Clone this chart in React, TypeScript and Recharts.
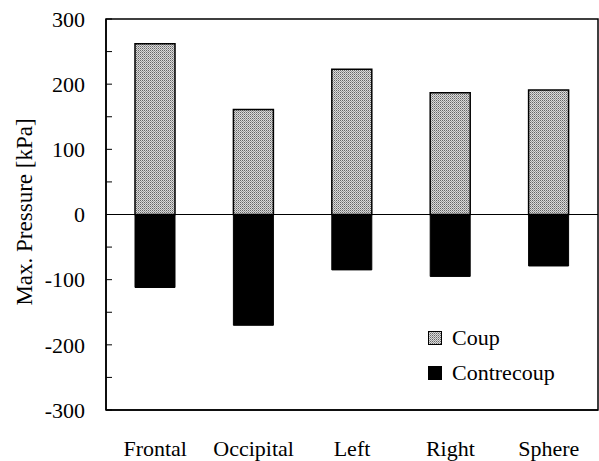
import React from 'react';
import { BarChart, Bar, XAxis, YAxis, ReferenceLine, ReferenceArea, Legend } from 'recharts';

const CATEGORIES = ['Frontal', 'Occipital', 'Left', 'Right', 'Sphere'];
const COUP = [262, 161, 223, 187, 191];
const CONTRECOUP = [-112, -170, -85, -95, -79];
const Y_TICKS = [-300, -250, -200, -150, -100, -50, 0, 50, 100, 150, 200, 250, 300];

const data = CATEGORIES.map((name, i) => ({ name, coup: COUP[i], contrecoup: CONTRECOUP[i] }));

const FONT = '"Liberation Serif", "Times New Roman", serif';

function LegendBox() {
  const row = (label: string, fill: string) => (
    <div style={{ display: 'flex', alignItems: 'center', height: 35 }}>
      <svg width={14} height={14} style={{ marginRight: 10 }}>
        <rect x={0.5} y={0.5} width={13} height={13} fill={fill} stroke="#000" />
      </svg>
      <span style={{ fontFamily: FONT, fontSize: 22, color: '#000' }}>{label}</span>
    </div>
  );
  return (
    <div>
      {row('Coup', 'url(#dots)')}
      {row('Contrecoup', '#000')}
    </div>
  );
}

export default function App() {
  return (
    <div style={{ position: 'absolute', left: 0, top: 0, width: 599, height: 461, background: '#fff' }}>
      <svg width={0} height={0} style={{ position: 'absolute' }}>
        <defs>
          <pattern id="dots" width={2} height={2} patternUnits="userSpaceOnUse">
            <rect width={2} height={2} fill="#dadada" />
            <rect x={0} y={0} width={1} height={1} fill="#666" />
            <rect x={1} y={1} width={1} height={1} fill="#999" />
          </pattern>
        </defs>
      </svg>
      <BarChart
        width={599}
        height={461}
        data={data}
        stackOffset="sign"
        margin={{ top: 19, right: 1, bottom: 6, left: 0 }}
      >
        <XAxis
          dataKey="name"
          height={45}
          axisLine={{ stroke: '#000', strokeWidth: 1.5 }}
          tickLine={false}
          tickMargin={24}
          tick={{ fontFamily: FONT, fontSize: 22, fill: '#000' }}
        />
        <YAxis
          domain={[-300, 300]}
          ticks={Y_TICKS}
          width={106}
          interval={0}
          axisLine={{ stroke: '#000', strokeWidth: 1.5 }}
          tickLine={{ stroke: '#000' }}
          tickSize={-6}
          tickMargin={27}
          tickFormatter={(v: number) => (v % 100 === 0 ? String(v) : '')}
          tick={{ fontFamily: FONT, fontSize: 22, fill: '#000' }}
          label={{
            content: () => (
              <text
                x={24}
                y={212}
                transform="rotate(-90 24 212)"
                textAnchor="middle"
                dominantBaseline="central"
                style={{ fontFamily: FONT, fontSize: 23, fill: '#000' }}
              >
                Max. Pressure [kPa]
              </text>
            ),
          }}
        />
        <ReferenceArea y1={-300} y2={300} fill="none" stroke="#000" strokeWidth={1.5} />
        <Bar dataKey="coup" stackId="a" barSize={40} fill="url(#dots)" stroke="#000" strokeWidth={1.5} isAnimationActive={false} />
        <Bar dataKey="contrecoup" stackId="a" barSize={40} fill="#000" stroke="#000" isAnimationActive={false} />
        <ReferenceLine y={0} stroke="#000" strokeWidth={1} />
        <Legend
          layout="horizontal"
          verticalAlign="middle"
          align="center"
          content={<LegendBox />}
          wrapperStyle={{ position: 'absolute', left: 428, top: 320, width: 'auto', bottom: 'auto', right: 'auto' }}
        />
      </BarChart>
    </div>
  );
}
